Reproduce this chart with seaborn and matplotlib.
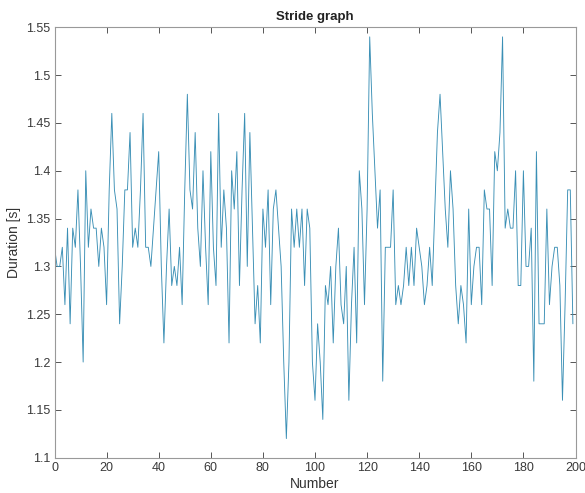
import numpy as np
import pandas as pd
import matplotlib
matplotlib.use("Agg")
import matplotlib.pyplot as plt
import seaborn as sns
from matplotlib.ticker import FuncFormatter

duration = [
    1.32, 1.30, 1.30, 1.32, 1.26, 1.34, 1.24, 1.34, 1.32, 1.38,
    1.30, 1.20, 1.40, 1.32, 1.36, 1.34, 1.34, 1.30, 1.34, 1.32,
    1.26, 1.38, 1.46, 1.38, 1.36, 1.24, 1.30, 1.38, 1.38, 1.44,
    1.32, 1.34, 1.32, 1.38, 1.46, 1.32, 1.32, 1.30, 1.34, 1.38,
    1.42, 1.30, 1.22, 1.30, 1.36, 1.28, 1.30, 1.28, 1.32, 1.26,
    1.38, 1.48, 1.38, 1.36, 1.44, 1.34, 1.30, 1.40, 1.32, 1.26,
    1.42, 1.32, 1.28, 1.46, 1.32, 1.38, 1.34, 1.22, 1.40, 1.36,
    1.42, 1.28, 1.38, 1.46, 1.30, 1.44, 1.34, 1.24, 1.28, 1.22,
    1.36, 1.32, 1.38, 1.26, 1.36, 1.38, 1.34, 1.30, 1.20, 1.12,
    1.20, 1.36, 1.32, 1.36, 1.32, 1.36, 1.28, 1.36, 1.34, 1.20,
    1.16, 1.24, 1.20, 1.14, 1.28, 1.26, 1.30, 1.22, 1.30, 1.34,
    1.26, 1.24, 1.30, 1.16, 1.26, 1.32, 1.22, 1.40, 1.36, 1.26,
    1.36, 1.54, 1.46, 1.40, 1.34, 1.38, 1.18, 1.32, 1.32, 1.32,
    1.38, 1.26, 1.28, 1.26, 1.28, 1.32, 1.28, 1.32, 1.28, 1.34,
    1.32, 1.30, 1.26, 1.28, 1.32, 1.28, 1.36, 1.44, 1.48, 1.42,
    1.36, 1.32, 1.40, 1.36, 1.28, 1.24, 1.28, 1.26, 1.22, 1.36,
    1.26, 1.30, 1.32, 1.32, 1.26, 1.38, 1.36, 1.36, 1.28, 1.42,
    1.40, 1.44, 1.54, 1.34, 1.36, 1.34, 1.34, 1.40, 1.28, 1.28,
    1.40, 1.30, 1.30, 1.34, 1.18, 1.42, 1.24, 1.24, 1.24, 1.36,
    1.26, 1.30, 1.32, 1.32, 1.28, 1.16, 1.26, 1.38, 1.38, 1.24,
]
number = list(range(len(duration)))

x_ticks = [0, 20, 40, 60, 80, 100, 120, 140, 160, 180, 200]
y_ticks = [1.1, 1.15, 1.2, 1.25, 1.3, 1.35, 1.4, 1.45, 1.5, 1.55]

df = pd.DataFrame({"Number": number, "Duration": duration})

sns.set_theme(style="white")
plt.rcParams["font.family"] = ["Liberation Sans", "DejaVu Sans"]

fig = plt.figure(figsize=(5.85, 4.93), dpi=100)
ax = fig.add_axes([54.5 / 585, 1 - 457.7 / 493, (575.5 - 54.5) / 585, (457.7 - 27.3) / 493])

sns.lineplot(data=df, x="Number", y="Duration", ax=ax, color="#3a8fb5",
             linewidth=0.65, estimator=None)

ax.set_xlim(0, 200)
ax.set_ylim(1.1, 1.55)
ax.set_xticks(x_ticks)
ax.set_yticks(y_ticks)
ax.yaxis.set_major_formatter(FuncFormatter(lambda v, p: f"{v:g}"))
ax.xaxis.set_major_formatter(FuncFormatter(lambda v, p: f"{v:g}"))

edge = "#999999"
for s in ax.spines.values():
    s.set_visible(True)
    s.set_color(edge)
    s.set_linewidth(0.8)
ax.tick_params(axis="both", which="major", direction="in", length=4, width=0.7,
               color="#555555", labelsize=9, labelcolor="#3a3a3a",
               top=True, right=True, bottom=True, left=True, pad=3)

ax.set_xlabel("Number", fontsize=10, color="#333333", labelpad=2)
ax.set_ylabel("Duration [s]", fontsize=10, color="#333333", labelpad=4)
ax.set_title("Stride graph", fontsize=9.5, fontweight="bold", color="#222222", pad=5)

fig.savefig("out.png", dpi=100)
